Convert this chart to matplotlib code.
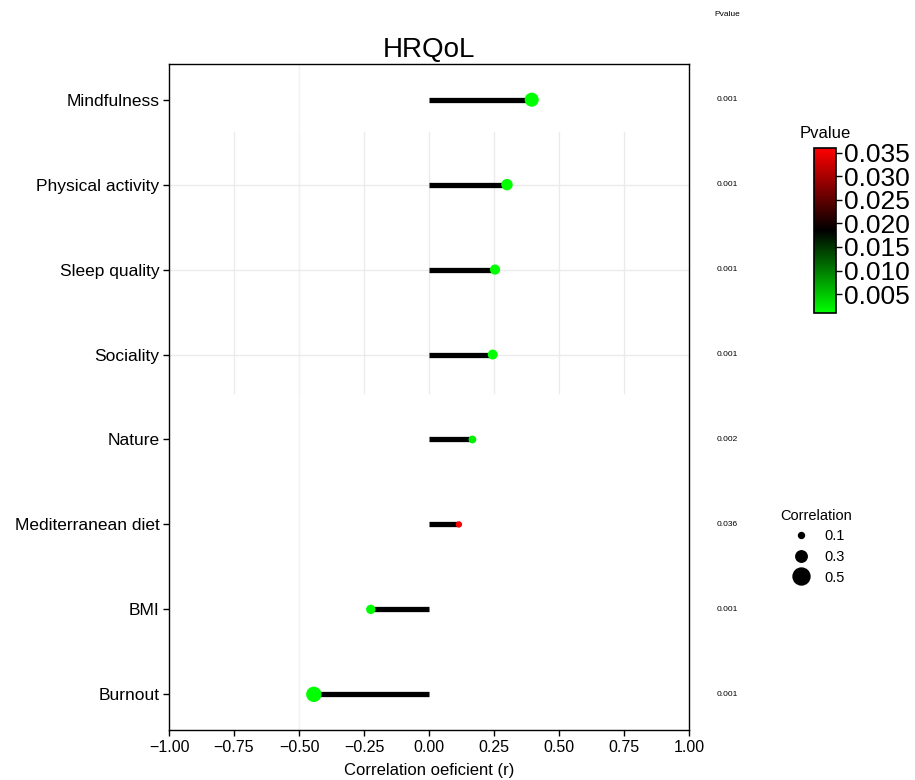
import numpy as np
import matplotlib
matplotlib.use("Agg")
import matplotlib.pyplot as plt
from matplotlib.colors import LinearSegmentedColormap, Normalize
from matplotlib.cm import ScalarMappable
from matplotlib.lines import Line2D

plt.rcParams['font.family'] = ['Liberation Sans', 'DejaVu Sans']

# data
factors = ["Mindfulness", "Physical activity", "Sleep quality", "Sociality",
           "Nature", "Mediterranean diet", "BMI", "Burnout"]
corr = [0.395, 0.30, 0.254, 0.245, 0.167, 0.115, -0.224, -0.443]
pvals = [0.001, 0.001, 0.001, 0.001, 0.002, 0.036, 0.001, 0.001]
pval_labels = ["0.001", "0.001", "0.001", "0.001", "0.002", "0.036", "0.001", "0.001"]
size_breaks = [0.1, 0.3, 0.5]
cbar_ticks = [0.005, 0.010, 0.015, 0.020, 0.025, 0.030, 0.035]
p_lim = (0.001, 0.036)


def dot_size(r):
    # marker area in pt^2 from |r|
    d_px = 3.2 + 27.5 * abs(r)
    return (d_px * 0.72) ** 2


cmap = LinearSegmentedColormap.from_list("pv", ["#00FF00", "#000000", "#FF0000"])
norm = Normalize(*p_lim)

fig = plt.figure(figsize=(9.15, 7.8), dpi=100)
ax = fig.add_axes([169 / 915, 50 / 780, 520 / 915, 666 / 780])

n = len(factors)
ypos = np.arange(n, 0, -1)

# partial faint grid (as in the reference)
for gx in [-0.75, -0.5, -0.25, 0, 0.25, 0.5, 0.75]:
    ax.axvline(gx, ymin=0.506, ymax=0.898, color="#EBEBEB", lw=1, zorder=0)
ax.axvline(-0.5, color="#F2F2F2", lw=1, zorder=0)
for gy in ypos[1:4]:
    ax.axhline(gy, color="#EBEBEB", lw=1, zorder=0)

ax.hlines(ypos, 0, corr, color="black", lw=3.8, zorder=2)
ax.scatter(corr, ypos, s=[dot_size(r) for r in corr], c=pvals, cmap=cmap,
           norm=norm, zorder=3, linewidths=0)

ax.set_xlim(-1, 1)
ax.set_ylim(0.58, n + 0.42)
ax.set_xticks([-1, -0.75, -0.5, -0.25, 0, 0.25, 0.5, 0.75, 1])
ax.set_xticklabels(["\u22121.00", "\u22120.75", "\u22120.50", "\u22120.25", "0.00",
                    "0.25", "0.50", "0.75", "1.00"], fontsize=11.5)
ax.set_yticks(ypos)
ax.set_yticklabels(factors, fontsize=12.5)
ax.tick_params(direction="out", length=4, width=1, colors="black", pad=3)
for sp in ax.spines.values():
    sp.set_linewidth(1)
    sp.set_color("black")
ax.set_xlabel("Correlation oeficient (r)", fontsize=12, labelpad=6)
ax.set_title("HRQoL", fontsize=20, pad=5)

# p-value column
tr = ax.get_yaxis_transform()
for y, lab in zip(ypos, pval_labels):
    ax.text(1.073, y, lab, transform=tr, fontsize=6, ha="center", va="center", clip_on=False)
fig.text(727 / 915, 1 - 14 / 780, "Pvalue", fontsize=6, ha="center", va="center")

# colour bar
cax = fig.add_axes([814 / 915, 1 - 313 / 780, 22 / 915, 165 / 780])
cb = fig.colorbar(ScalarMappable(norm=norm, cmap=cmap), cax=cax, ticks=cbar_ticks)
cb.ax.set_yticklabels([f"{t:.3f}" for t in cbar_ticks], fontsize=19)
cb.ax.tick_params(length=4, width=1, pad=2)
cb.outline.set_linewidth(1.2)
cb.outline.set_edgecolor("black")
fig.text(825 / 915, 1 - 133 / 780, "Pvalue", fontsize=12, ha="center", va="center")

# size legend
handles = [Line2D([], [], ls="", marker="o", color="black",
                  markersize=np.sqrt(dot_size(b))) for b in size_breaks]
fig.legend(handles, [str(b) for b in size_breaks], title="Correlation",
           loc="upper left", bbox_to_anchor=(774 / 915, 1 - 503 / 780),
           frameon=False, fontsize=10.5, title_fontsize=10.5,
           handletextpad=0.6, labelspacing=0.45, borderaxespad=0)

fig.savefig("out.png", dpi=100)
